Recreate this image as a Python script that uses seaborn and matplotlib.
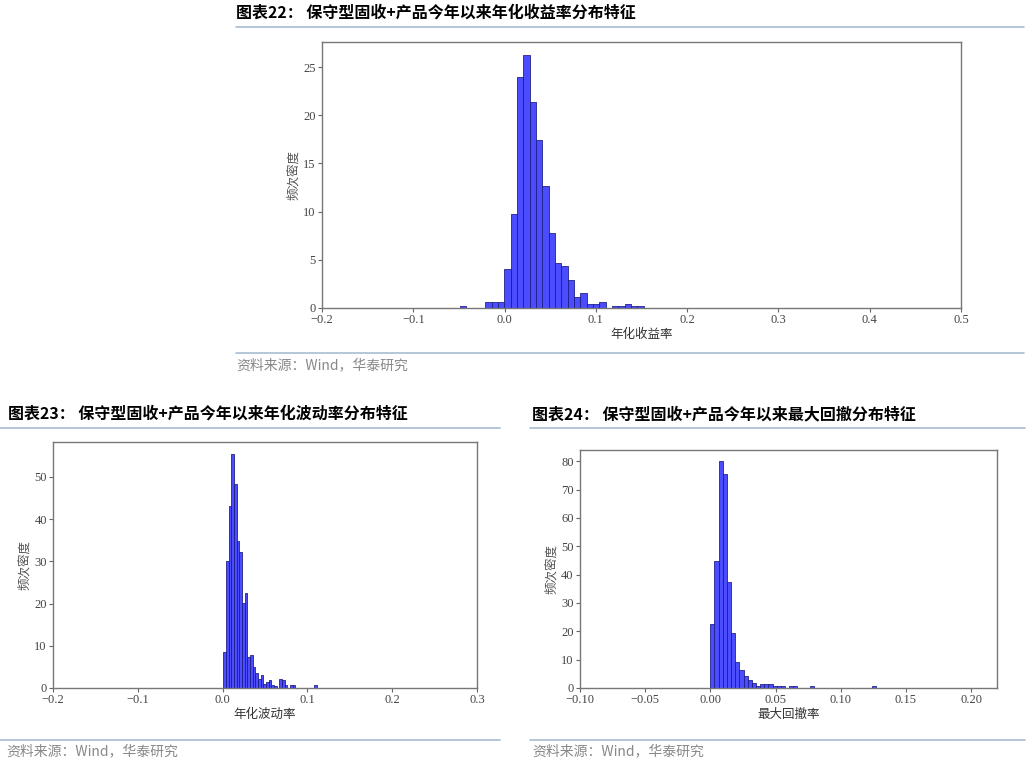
### histograms of fixed-income+ product stats (density)
import numpy as np
import pandas as pd
import matplotlib.pyplot as plt
from matplotlib.lines import Line2D
import seaborn as sns

### Data ###
# annualised return
ret_start = -0.0487
ret_width = 0.00693
ret_density = [0.2, 0, 0, 0, 0.6, 0.6, 0.6, 4.0, 9.8, 24.0, 26.3, 21.4, 17.4, 12.7,
               7.8, 4.7, 4.4, 2.9, 1.1, 1.6, 0.4, 0.4, 0.6, 0, 0.2, 0.2, 0.4, 0.2, 0.2]

# annualised volatility
vol_start = 0.0006
vol_width = 0.00315
vol_density = [8.5, 30.0, 43.0, 55.5, 48.4, 34.8, 32.1, 20.1, 22.4, 7.3, 7.8, 5.0,
               3.5, 2.2, 3.0, 1.0, 1.4, 1.8, 0.7, 0.4, 0, 2.1, 1.8, 0.6, 0, 0.6,
               0.6, 0, 0, 0, 0, 0, 0, 0, 0.6]

# max drawdown
mdd_start = 0.0
mdd_width = 0.00318
mdd_density = [22.7, 44.8, 80.0, 75.6, 37.4, 19.4, 9.0, 6.4, 4.4, 2.8, 1.8, 0.6,
               1.4, 1.4, 1.4, 0.6, 0.6, 0.6, 0, 0.6, 0.6, 0, 0, 0, 0.6, 0, 0, 0,
               0, 0, 0, 0, 0, 0, 0, 0, 0, 0, 0, 0.6]

titles = ["图表22： 保守型固收+产品今年以来年化收益率分布特征",
          "图表23： 保守型固收+产品今年以来年化波动率分布特征",
          "图表24： 保守型固收+产品今年以来最大回撤分布特征"]
xlabels = ["年化收益率", "年化波动率", "最大回撤率"]
ylabel = "频次密度"
source = "资料来源：Wind，华泰研究"

sns.set_style("white")
plt.rcParams['font.family'] = ['Liberation Serif', 'Noto Sans CJK SC', 'DejaVu Sans']
plt.rcParams['axes.unicode_minus'] = True
cjk = ['Noto Sans CJK SC', 'DejaVu Sans']
grey = '#555555'
line_col = '#a9bcd3'

fig = plt.figure(figsize=(10.3, 7.64), dpi=100)
ax1 = fig.add_axes([0.3126, 0.5969, 0.6204, 0.3482])
ax2 = fig.add_axes([0.0515, 0.0995, 0.4117, 0.3220])
ax3 = fig.add_axes([0.5631, 0.0995, 0.4050, 0.3115])

panels = [
    (ax1, ret_start, ret_width, ret_density, (-0.2, 0.5), np.arange(-0.2, 0.51, 0.1), "%.1f"),
    (ax2, vol_start, vol_width, vol_density, (-0.2, 0.3), np.arange(-0.2, 0.31, 0.1), "%.1f"),
    (ax3, mdd_start, mdd_width, mdd_density, (-0.1, 0.22), np.arange(-0.10, 0.21, 0.05), "%.2f"),
]

for i, (ax, start, width, dens, xlim, xt, fmt) in enumerate(panels):
    n = len(dens)
    lo, hi = start, start + width * n
    df = pd.DataFrame({"x": lo + width * (np.arange(n) + 0.5), "w": dens})
    sns.histplot(data=df, x="x", weights="w", bins=n, binrange=(lo, hi), stat="count", ax=ax,
                 color='#0000ff', alpha=0.7, edgecolor='#22228a', linewidth=0.6)
    ax.set_xlim(*xlim)
    ax.set_xticks(xt)
    ax.set_xticklabels([(fmt % v).replace('-', '\u2212') if abs(v) > 1e-9 else fmt % 0 for v in xt])
    ax.set_xlabel(xlabels[i], fontsize=9, family=cjk, color='#333333', labelpad=1)
    ax.set_ylabel(ylabel, fontsize=9, family=cjk, color=grey, labelpad=2)
    ax.tick_params(direction='out', length=3, width=0.8, colors='#666666', pad=1.5,
                   labelcolor='#444444', labelsize=9, bottom=True, left=True)
    for s in ax.spines.values():
        s.set_color('#777777')
        s.set_linewidth(1.0)

ax1.set_yticks([0, 5, 10, 15, 20, 25])
ax2.set_yticks([0, 10, 20, 30, 40, 50])
ax3.set_yticks([0, 10, 20, 30, 40, 50, 60, 70, 80])

# titles, rules and sources
title_kw = dict(fontsize=11.5, fontweight='bold', family=cjk, color='black', va='center')
fig.text(0.229, 0.983, titles[0], **title_kw)
fig.text(0.008, 0.458, titles[1], **title_kw)
fig.text(0.5165, 0.458, titles[2], **title_kw)

for x0, x1, y in [(0.229, 0.994, 0.9647), (0.0, 0.485, 0.440), (0.515, 0.995, 0.440),
                  (0.229, 0.994, 0.538), (0.0, 0.485, 0.0314), (0.515, 0.995, 0.0314)]:
    fig.add_artist(Line2D([x0, x1], [y, y], color=line_col, linewidth=1.2,
                          transform=fig.transFigure))

src_kw = dict(fontsize=10, family=cjk, color='#888888', va='center')
fig.text(0.229, 0.522, source, **src_kw)
fig.text(0.006, 0.017, source, **src_kw)
fig.text(0.5165, 0.017, source, **src_kw)

plt.savefig("out.png", dpi=100)
